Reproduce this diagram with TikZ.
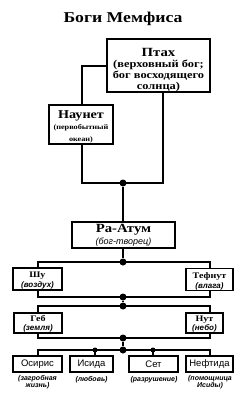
\documentclass[tikz,border=0pt]{standalone}
\usepackage{fontspec}
\setmainfont{Liberation Serif}[FakeStretch=1.18]
\setsansfont{Liberation Sans}
\begin{document}
\begin{tikzpicture}[x=1pt,y=-1pt,line width=1.2pt,
  box/.style={draw,line width=1.3pt,inner sep=0pt,align=center},
  bigdot/.style={circle,fill=black,inner sep=0pt,minimum size=7pt},
  smalldot/.style={circle,fill=black,inner sep=0pt,minimum size=5pt},
  sub/.style={font=\sffamily\bfseries\itshape\fontsize{7}{7}\selectfont,align=center,inner sep=0pt},
  lowname/.style={font=\sffamily\fontsize{9.5}{9.5}\selectfont}]
\useasboundingbox (0,0) rectangle (246,400);
\node[font=\bfseries\fontsize{15}{15}\selectfont] (title) at (123,19) {Боги Мемфиса};
% Ptah
\node[box,line width=1.8pt,minimum width=103pt,minimum height=49pt,
  font=\bfseries\fontsize{10.5}{10.8}\selectfont] (ptah) at (158.5,65.5)
  {\rule{0pt}{17pt}{\fontsize{12.5}{12.5}\selectfont Птах}\\[1pt](верховный бог;\\бог восходящего\\солнца)};
% Naunet
\node[box,line width=1.5pt,minimum width=64pt,minimum height=39pt,
  font=\bfseries\fontsize{7}{11.5}\selectfont] (naunet) at (81,124.5)
  {\rule{0pt}{12pt}{\fontsize{12}{12}\selectfont Наунет}\\(первобытный\\океан)};
% Ra-Atum
\node[box,minimum width=103pt,minimum height=26pt,font=\fontsize{9}{12}\selectfont] (ra) at (123.5,235)
  {{\bfseries\fontsize{12.5}{12.5}\selectfont Ра-Атум}\\{\sffamily\itshape\fontsize{9}{9}\selectfont (бог-творец)}};
% Shu, Tefnut
\node[box,minimum width=49pt,minimum height=22pt,font=\fontsize{8}{10}\selectfont] (shu) at (37.5,279)
  {\rule{0pt}{9pt}{\bfseries\fontsize{8.5}{8.5}\selectfont Шу}\\{\sffamily\bfseries\itshape\fontsize{8}{8}\selectfont (воздух)}};
\node[box,minimum width=47pt,minimum height=22pt,font=\fontsize{8}{10}\selectfont] (tefnut) at (209.5,279.5)
  {\rule{0pt}{9pt}{\bfseries\fontsize{8.5}{8.5}\selectfont Тефнут}\\{\sffamily\bfseries\itshape\fontsize{8}{8}\selectfont (влага)}};
% Geb, Nut
\node[box,minimum width=48pt,minimum height=20pt,font=\fontsize{8}{9.5}\selectfont] (geb) at (38,323)
  {\rule{0pt}{8pt}{\bfseries\fontsize{8.5}{8.5}\selectfont Геб}\\{\sffamily\bfseries\itshape\fontsize{8}{8}\selectfont (земля)}};
\node[box,minimum width=37pt,minimum height=20pt,font=\fontsize{8}{9.5}\selectfont] (nut) at (204.5,323)
  {\rule{0pt}{8pt}{\bfseries\fontsize{8.5}{8.5}\selectfont Нут}\\{\sffamily\bfseries\itshape\fontsize{8}{8}\selectfont (небо)}};
% bottom row
\node[box,lowname,minimum width=49pt,minimum height=16pt] (osiris) at (37.5,364) {Осирис};
\node[box,lowname,minimum width=43pt,minimum height=16pt] (isis) at (91.5,364) {Исида};
\node[box,lowname,minimum width=49pt,minimum height=16pt] (set) at (153.5,364) {Сет};
\node[box,lowname,minimum width=47pt,minimum height=16pt] (neph) at (209.5,364) {Нефтида};
\node[sub] (losiris) at (37.5,382) {(загробная\\жизнь)};
\node[sub] (lisis) at (91.5,380) {(любовь)};
\node[sub] (lset) at (154,380) {(разрушение)};
\node[sub] (lneph) at (210,382) {(помощница\\Исиды)};
% dots
\node[bigdot] (d1) at (123,183) {};
\node[bigdot] (d2) at (123,262) {};
\node[bigdot] (d3) at (123,297) {};
\node[bigdot] (d4) at (123,306) {};
\node[bigdot] (d5) at (123,338) {};
\node[bigdot] (d6) at (123,350) {};
\node[smalldot] (s1) at (95,350) {};
\node[smalldot] (s2) at (153,350) {};
% connectors
\draw (ptah.west |- 0,66) -| (naunet.north -| 82,0);
\draw (naunet.south -| 82,0) |- (d1.center) -| (ptah.south -| 163,0);
\draw (d1) -- (ra.north -| d1);
\draw (ra.south -| d2) -- (d2);
\draw (shu.north -| 38,0) |- (d2.center) -| (tefnut.north -| 210,0);
\draw (shu.south -| 38,0) |- (d3.center) -| (tefnut.south -| 210,0);
\draw (d3) -- (d4);
\draw (geb.north -| 38,0) |- (d4.center) -| (nut.north -| 210,0);
\draw (geb.south -| 38,0) |- (d5.center) -| (nut.south -| 210,0);
\draw (d5) -- (d6);
\draw (osiris.north -| 38,0) |- (d6.center) -| (neph.north -| 210,0);
\draw (s1.center) -- (isis.north -| s1);
\draw (s2.center) -- (set.north -| s2);
\end{tikzpicture}
\end{document}
